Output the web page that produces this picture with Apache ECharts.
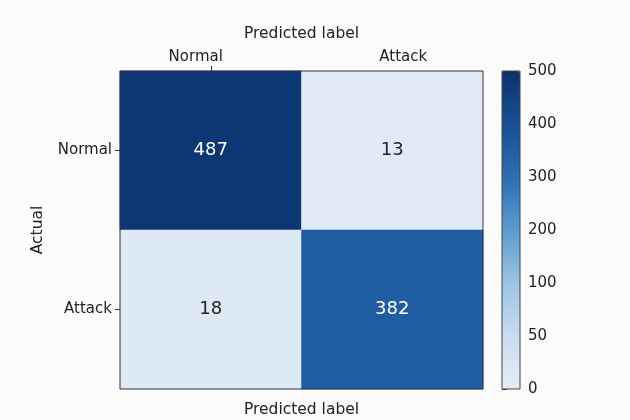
<!DOCTYPE html>
<html>
<head>
<meta charset="utf-8">
<script src="https://cdn.jsdelivr.net/npm/echarts@6/dist/echarts.min.js"></script>
<style>
  html, body { margin: 0; padding: 0; background: #fbfbfb; }
  #chart { width: 630px; height: 420px; }
</style>
</head>
<body>
<div id="chart"></div>
<script>
// Confusion matrix: rows = actual class, columns = predicted class
const predictedLabels = ['Normal', 'Attack'];
const actualLabels = ['Normal', 'Attack'];
const countsNormal = [487, 13];
const countsAttack = [18, 382];
const colorbarTicks = ['0', '50', '100', '200', '300', '400', '500'];

const rows = [countsNormal, countsAttack];
const cells = [];
rows.forEach((row, r) => row.forEach((v, c) => cells.push([c, r, v])));

const blues = ['#e4edf8', '#c8dcf0', '#9cc4e4', '#5a9cce', '#2d6eb3', '#174f95', '#0b326d'];
const font = 'DejaVu Sans';
const ink = '#222';

// top tick labels sit slightly off the column centres
const topLabelPadding = [[0, 30, 0, 0], [0, 0, 0, 22]];

const chart = echarts.init(document.getElementById('chart'), null, { renderer: 'canvas' });
chart.setOption({
  backgroundColor: '#fbfbfb',
  textStyle: { fontFamily: font },
  grid: [
    { left: 120, right: 147, top: 71, bottom: 31, show: true, borderColor: '#333', borderWidth: 1, z: 10,
      outerBoundsMode: 'none', containLabel: false },
    { left: 502, width: 18, top: 71, bottom: 31, show: true, borderColor: '#444', borderWidth: 1, z: 10,
      backgroundColor: 'transparent', outerBoundsMode: 'none', containLabel: false }
  ],
  xAxis: [
    {
      gridIndex: 0, type: 'category', position: 'top',
      data: predictedLabels.map((name, i) => ({ value: name, textStyle: { padding: topLabelPadding[i] } })),
      name: 'Predicted label', nameLocation: 'middle', nameGap: 29,
      nameTextStyle: { fontSize: 15.5, color: ink, fontFamily: font },
      axisLine: { show: false },
      axisTick: { show: true, alignWithLabel: true, length: 5, interval: (i) => i === 0, lineStyle: { color: '#333' } },
      axisLabel: { fontSize: 15, color: ink, margin: 6, fontFamily: font },
      splitLine: { show: false }
    },
    {
      gridIndex: 0, type: 'category', data: predictedLabels, position: 'bottom',
      name: 'Predicted label', nameLocation: 'middle', nameGap: 13,
      nameTextStyle: { fontSize: 15.5, color: ink, fontFamily: font },
      axisLine: { show: false }, axisTick: { show: false }, axisLabel: { show: false },
      splitLine: { show: false }
    },
    {
      gridIndex: 1, type: 'value', min: 0, max: 1, show: false
    }
  ],
  yAxis: [
    {
      gridIndex: 0, type: 'category', data: actualLabels, inverse: true,
      name: 'Actual', nameLocation: 'middle', nameGap: 74, nameRotate: 90,
      nameTextStyle: { fontSize: 15.5, color: ink, fontFamily: font },
      axisLine: { show: false },
      axisTick: { show: true, alignWithLabel: true, length: 5, lineStyle: { color: '#333' } },
      axisLabel: { fontSize: 15, color: ink, margin: 8, fontFamily: font },
      splitLine: { show: false }
    },
    {
      gridIndex: 1, type: 'category', data: colorbarTicks, position: 'right',
      boundaryGap: false,
      axisLine: { show: false },
      axisTick: { show: true, length: 5, lineStyle: { color: '#333' } },
      axisLabel: { fontSize: 15, color: ink, margin: 8, fontFamily: font },
      splitLine: { show: false }
    }
  ],
  visualMap: {
    type: 'continuous', min: 0, max: 500, seriesIndex: 0,
    orient: 'vertical', left: 502, top: 71, itemWidth: 18, itemHeight: 318,
    padding: 0, text: null, calculable: false, showLabel: false,
    inRange: { color: blues }
  },
  series: [{
    type: 'heatmap', xAxisIndex: 0, yAxisIndex: 0,
    data: cells.map(d => ({
      value: d,
      // white numbers on dark cells, dark numbers on light cells
      label: { color: d[2] > 250 ? '#ffffff' : ink }
    })),
    label: {
      show: true, fontSize: 18, fontFamily: font,
      formatter: (p) => p.value[2]
    },
    itemStyle: { borderWidth: 0 },
    emphasis: { disabled: true }
  }]
});
</script>
</body>
</html>
